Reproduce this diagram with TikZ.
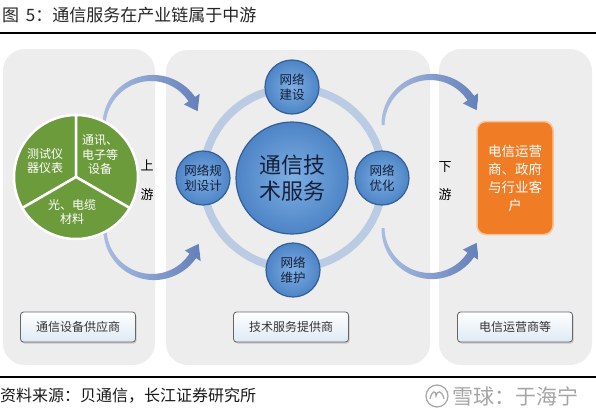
\documentclass[tikz,border=0pt]{standalone}
\usepackage{fontspec}
\setmainfont{Noto Sans CJK SC}
\usetikzlibrary{arrows.meta,shadows}
\definecolor{panelgray}{RGB}{237,237,237}
\definecolor{piegreen}{RGB}{108,155,60}
\definecolor{arrowlight}{RGB}{170,188,225}
\definecolor{arrowdark}{RGB}{100,128,186}
\definecolor{ringblue}{RGB}{188,203,228}
\definecolor{bubblelight}{RGB}{125,175,228}
\definecolor{bubbledark}{RGB}{78,132,198}
\definecolor{bubbleedge}{RGB}{50,95,150}
\definecolor{navytext}{RGB}{22,32,58}
\definecolor{custorange}{RGB}{240,124,38}
\definecolor{custedge}{RGB}{250,195,150}
\definecolor{labelbottom}{RGB}{222,233,244}
\definecolor{wmgray}{RGB}{165,165,165}
\tikzset{
  panel/.style={fill=panelgray, draw=none, rounded corners=22pt},
  arcshade/.style={left color=arrowlight, right color=arrowdark},
  bubble/.style={circle, draw=bubbleedge, line width=1.2pt, inner color=bubblelight, outer color=bubbledark,
    text=navytext, align=center, inner sep=0pt},
  smallbubble/.style={bubble, minimum size=54pt, font=\fontsize{12.5}{15}\selectfont},
  labelbox/.style={draw=gray!80!black, line width=0.8pt, rounded corners=3pt, top color=white, bottom color=labelbottom,
    minimum width=115pt, minimum height=30pt, font=\fontsize{12}{14}\selectfont, text=black!80,
    drop shadow={shadow xshift=1pt, shadow yshift=-1.5pt, opacity=0.35}},
  pietext/.style={text=white, align=center, font=\fontsize{12}{14.5}\selectfont},
  sidetext/.style={text=black, font=\fontsize{13}{15}\selectfont},
}
% tapered curved arrow: #1,#2 centre, #3 end angle of the shaft, #4 angle of the tip (start angle is 180, radius 48)
\newcommand\taperarc[4]{%
  \shade[arcshade]
    plot[domain=180:#3, samples=40, variable=\t]
      ({#1+(49.5+2.5*(\t-180)/(#3-180))*cos(\t)},{#2+(49.5+2.5*(\t-180)/(#3-180))*sin(\t)})
    -- ({#1+57.5*cos(#3)},{#2+57.5*sin(#3)})
    -- ({#1+48*cos(#4)},{#2+48*sin(#4)})
    -- ({#1+38.5*cos(#3)},{#2+38.5*sin(#3)})
    -- plot[domain=#3:180, samples=40, variable=\t]
      ({#1+(46.5-2.5*(\t-180)/(#3-180))*cos(\t)},{#2+(46.5-2.5*(\t-180)/(#3-180))*sin(\t)})
    -- cycle;}
\begin{document}
\begin{tikzpicture}[x=1pt,y=-1pt]
\useasboundingbox (0,0) rectangle (596,415);
\fill[white] (0,0) rectangle (596,415);
% title
\node[anchor=west, inner sep=0pt, text=black!85, font=\fontsize{17}{20}\selectfont] (title) at (2,15) {图\, 5：通信服务在产业链属于中游};
\draw[line width=1.2pt] (0,33) -- (596,33);
% panels
\fill[panel] (3,49) rectangle (155,365);
\fill[panel] (166,50) rectangle (430,365);
\fill[panel] (439,49) rectangle (592,365);
% curved arrows
\taperarc{152}{126}{326}{342}
\taperarc{153}{229}{34}{18}
\taperarc{431}{125}{326}{342}
\taperarc{431}{228}{34}{18}
% pie
\coordinate (pc) at (76,177);
\filldraw[fill=piegreen, draw=white, line width=2.5pt] (pc) -- +(150:62) arc[start angle=150, end angle=270, radius=62] -- cycle;
\filldraw[fill=piegreen, draw=white, line width=2.5pt] (pc) -- +(270:62) arc[start angle=270, end angle=390, radius=62] -- cycle;
\filldraw[fill=piegreen, draw=white, line width=2.5pt] (pc) -- +(30:62) arc[start angle=30, end angle=150, radius=62] -- cycle;
\node[pietext] (p1) at (45,161) {测试仪\\器仪表};
\node[pietext] (p2) at (100,155) {通讯、\\电子等\\设备};
\node[pietext] (p3) at (72,212) {光、电缆\\材料};
\node[sidetext] (up1) at (147,165) {上};
\node[sidetext] (up2) at (147,195) {游};
\node[sidetext] (dn1) at (445,167) {下};
\node[sidetext] (dn2) at (445,195) {游};
% ring and bubbles
\draw[ringblue, line width=8pt] (293,178) circle[radius=90];
\node[bubble, minimum size=112pt, font=\fontsize{22}{26}\selectfont] (core) at (292,178) {通信技\\术服务};
\node[smallbubble] (build) at (292,87) {网络\\建设};
\node[smallbubble] (plan) at (203,178) {网络规\\划设计};
\node[smallbubble] (opt) at (382,178) {网络\\优化};
\node[smallbubble] (maint) at (293,270) {网络\\维护};
% customer box
\node[fill=custorange, draw=custedge, line width=1.5pt, rounded corners=9pt, minimum width=76pt, minimum height=113pt,
  text=white, align=center, font=\fontsize{13.5}{18}\selectfont] (cust) at (515,178) {电信运营\\商、政府\\与行业客\\户};
% label boxes
\node[labelbox] (lab1) at (78,327) {通信设备供应商};
\node[labelbox] (lab2) at (291,327) {技术服务提供商};
\node[labelbox] (lab3) at (515,327) {电信运营商等};
% footer
\draw[line width=1.2pt] (0,377) -- (596,377);
\node[anchor=west, inner sep=0pt, text=black!90, font=\fontsize{16}{18}\selectfont] (src) at (0,396) {资料来源：贝通信，长江证券研究所};
\node[circle, draw=wmgray, line width=1.2pt, minimum size=22pt, inner sep=0pt] (logo) at (437,396) {};
\draw[wmgray, line width=1.2pt] (430,399) .. controls (432,390) and (436,390) .. (436,396) .. controls (437,390) and (442,390) .. (444,399);
\node[anchor=west, inner sep=0pt, text=wmgray, font=\fontsize{21}{24}\selectfont] (wm) at (452,396) {雪球：于海宁};
\end{tikzpicture}
\end{document}
